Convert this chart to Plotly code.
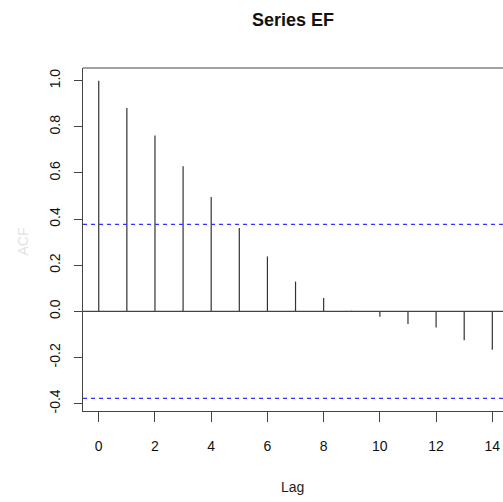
import plotly.graph_objects as go

# Data
lags = [0, 1, 2, 3, 4, 5, 6, 7, 8, 9, 10, 11, 12, 13, 14]
acf_vals = [1.0, 0.882, 0.762, 0.629, 0.496, 0.361, 0.238, 0.129, 0.058,
            0.002, -0.024, -0.055, -0.070, -0.126, -0.167]
ci = 0.3772  # 1.96 / sqrt(27)
x_ticks = [0, 2, 4, 6, 8, 10, 12, 14]
y_ticks = [-0.4, -0.2, 0.0, 0.2, 0.4, 0.6, 0.8, 1.0]
y_tick_labels = ["-0.4", "-0.2", "0.0", "0.2", "0.4", "0.6", "0.8", "1.0"]

FONT = "Liberation Sans, Arial, sans-serif"

xs, ys = [], []
for l, v in zip(lags, acf_vals):
    xs += [l, l, None]
    ys += [0, v, None]

fig = go.Figure()
fig.add_trace(go.Scatter(x=xs, y=ys, mode="lines",
                         line=dict(color="#333333", width=1.2),
                         hoverinfo="skip", showlegend=False))

span = max(acf_vals) - (-ci)
ylo = -ci - 0.04 * span
yhi = max(acf_vals) + 0.04 * span

fig.update_layout(
    width=503, height=502,
    margin=dict(l=83, r=0, t=68, b=91),
    paper_bgcolor="white", plot_bgcolor="white",
    font=dict(family=FONT, size=14, color="#111111"),
    showlegend=False,
    xaxis=dict(range=[-0.56, 14.38], tickvals=x_ticks,
               ticks="outside", ticklen=10, tickwidth=1.2, tickcolor="#444444",
               showgrid=False, zeroline=False,
               showline=True, linecolor="#444444", linewidth=1.2,
               ticklabelstandoff=12,
               tickfont=dict(family=FONT, size=14, color="#111111")),
    yaxis=dict(range=[ylo, yhi], tickvals=y_ticks, ticktext=y_tick_labels,
               ticks="outside", ticklen=8, tickwidth=1.2, tickcolor="#444444",
               tickangle=-90,
               showgrid=False, zeroline=False,
               showline=True, linecolor="#444444", linewidth=1.2,
               ticklabelstandoff=8,
               tickfont=dict(family=FONT, size=14, color="#111111")),
    shapes=[
        dict(type="line", xref="paper", yref="paper", x0=0, x1=1, y0=1, y1=1,
             line=dict(color="#444444", width=1.2)),
        dict(type="line", xref="paper", yref="y", x0=0, x1=1, y0=0, y1=0,
             line=dict(color="#444444", width=1.2)),
        dict(type="line", xref="paper", yref="y", x0=0, x1=1, y0=ci, y1=ci,
             line=dict(color="#3333ff", width=1.2, dash="4px,4px")),
        dict(type="line", xref="paper", yref="y", x0=0, x1=1, y0=-ci, y1=-ci,
             line=dict(color="#3333ff", width=1.2, dash="4px,4px")),
    ],
    annotations=[
        dict(text="<b>Series EF</b>", xref="paper", yref="paper",
             x=(293 - 83) / 420, y=1, yshift=48, showarrow=False,
             xanchor="center", yanchor="middle",
             font=dict(family=FONT, size=18, color="#111111")),
        dict(text="Lag", xref="paper", yref="paper",
             x=(292 - 83) / 420, y=0, yshift=-76, showarrow=False,
             xanchor="center", yanchor="middle",
             font=dict(family=FONT, size=14, color="#222222")),
        dict(text="ACF", xref="paper", yref="y",
             x=0, xshift=-60, y=(311.7 - 242) / 230.2, showarrow=False,
             textangle=-90, xanchor="center", yanchor="middle",
             font=dict(family=FONT, size=14, color="#e2e2e2")),
    ],
)

fig.write_html("out.html")
